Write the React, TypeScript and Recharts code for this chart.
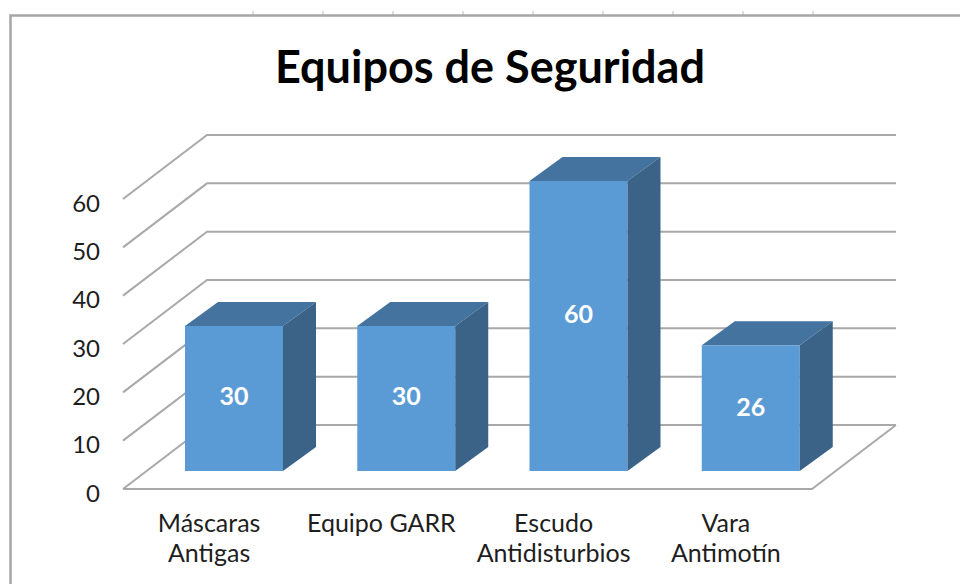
import React from "react";
import { BarChart, Bar, XAxis, YAxis, CartesianGrid, LabelList } from "recharts";

// ---- data ----
const title = "Equipos de Seguridad";
const categories = ["Máscaras Antigas", "Equipo GARR", "Escudo Antidisturbios", "Vara Antimotín"];
const categoryLines = [["Máscaras", "Antigas"], ["Equipo GARR"], ["Escudo", "Antidisturbios"], ["Vara", "Antimotín"]];
const values = [30, 30, 60, 26];
const yTicks = [0, 10, 20, 30, 40, 50, 60];

const data = categories.map((name, i) => ({ name, value: values[i] }));

// ---- style / geometry ----
const FONT = "Lato, 'Open Sans', sans-serif";
const WALL = { dx: 84, dy: -64 }; // full depth of the 3D floor/wall
const SHIFT = { dx: 25, dy: -18 }; // bars sit inside the depth
const BOX = { dx: 33, dy: -24 }; // depth of each bar
const FRONT = "#5b9bd5";
const TOP = "#44739f";
const SIDE = "#3a6387";
const GRID = "#a9a9a9";

const gridLine = (props: any) => {
  const { x1, y1, x2, index } = props;
  const bottom = props.y !== undefined && props.height !== undefined ? props.y + props.height : null;
  const isFloor = bottom !== null && Math.abs(y1 - bottom) < 0.5;
  const bx1 = x1 + WALL.dx;
  const by = y1 + WALL.dy;
  const bx2 = x2 + WALL.dx;
  return (
    <g key={`grid-${index}-${y1}`}>
      <polyline
        points={`${x1},${y1} ${bx1},${by} ${bx2},${by}`}
        fill="none"
        stroke={GRID}
        strokeWidth={2}
      />
      {isFloor && (
        <polyline
          points={`${x1},${y1} ${x2},${y1} ${bx2},${by}`}
          fill="none"
          stroke={GRID}
          strokeWidth={2}
        />
      )}
    </g>
  );
};

const Box3D = (props: any) => {
  const { x, y, width, height } = props;
  const fx = x + SHIFT.dx;
  const fy = y + SHIFT.dy;
  const w = width;
  const h = height;
  return (
    <g>
      <rect x={fx} y={fy} width={w} height={h} fill={FRONT} />
      <polygon
        points={`${fx},${fy} ${fx + BOX.dx},${fy + BOX.dy} ${fx + w + BOX.dx},${fy + BOX.dy} ${fx + w},${fy}`}
        fill={TOP}
      />
      <polygon
        points={`${fx + w},${fy} ${fx + w + BOX.dx},${fy + BOX.dy} ${fx + w + BOX.dx},${fy + h + BOX.dy} ${fx + w},${fy + h}`}
        fill={SIDE}
      />
    </g>
  );
};

const BarValueLabel = (props: any) => {
  const { x, y, width, height, value } = props;
  const cx = x + SHIFT.dx + width / 2;
  const bottom = y + height + SHIFT.dy;
  const cy = bottom + 6 - 0.565 * height;
  return (
    <text
      x={cx}
      y={cy}
      textAnchor="middle"
      dominantBaseline="central"
      fill="#ffffff"
      fontFamily={FONT}
      fontWeight={700}
      fontSize={25}
    >
      {value}
    </text>
  );
};

const XTick = (props: any) => {
  const { x, y, payload } = props;
  const lines = categoryLines[payload.index] || [String(payload.value)];
  return (
    <text textAnchor="middle" fill="#1e1e1e" fontFamily={FONT} fontSize={25}>
      {lines.map((l: string, i: number) => (
        <tspan key={i} x={x} y={y + 43 + i * 30}>
          {l}
        </tspan>
      ))}
    </text>
  );
};

const YTick = (props: any) => {
  const { x, y, payload } = props;
  return (
    <text
      x={x - 23}
      y={y + 3}
      textAnchor="end"
      dominantBaseline="central"
      fill="#1e1e1e"
      fontFamily={FONT}
      fontSize={24}
    >
      {payload.value}
    </text>
  );
};

export default function App() {
  const sheetTicks = Array.from({ length: 9 }, (_, k) => 253 + k * 70);
  return (
    <div style={{ position: "absolute", left: 0, top: 0, width: 960, height: 584, background: "#fff", overflow: "hidden" }}>
      <svg width={960} height={584} style={{ position: "absolute", left: 0, top: 0 }}>
        {sheetTicks.map((tx) => (
          <line key={tx} x1={tx} y1={11} x2={tx} y2={15} stroke="#cfcfcf" strokeWidth={1.5} />
        ))}
        <rect x={10.5} y={15.5} width={1000} height={600} fill="none" stroke="#a6a6a6" strokeWidth={2.5} />
        <text x={490} y={83} textAnchor="middle" fontFamily={FONT} fontWeight={700} fontSize={45} fill="#000">
          {title}
        </text>
      </svg>
      <div style={{ position: "absolute", left: 0, top: 0 }}>
        <BarChart
          width={960}
          height={584}
          data={data}
          margin={{ top: 199, right: 148, bottom: 65, left: 23 }}
          barSize={98}
        >
          <CartesianGrid vertical={false} horizontal={gridLine} />
          <XAxis
            dataKey="name"
            axisLine={false}
            tickLine={false}
            tickSize={0}
            tickMargin={0}
            height={30}
            interval={0}
            tick={<XTick />}
          />
          <YAxis
            domain={[0, 60]}
            ticks={yTicks}
            axisLine={false}
            tickLine={false}
            tickSize={0}
            tickMargin={0}
            width={100}
            tick={<YTick />}
          />
          <Bar dataKey="value" shape={<Box3D />} isAnimationActive={false}>
            <LabelList dataKey="value" content={<BarValueLabel />} />
          </Bar>
        </BarChart>
      </div>
    </div>
  );
}
